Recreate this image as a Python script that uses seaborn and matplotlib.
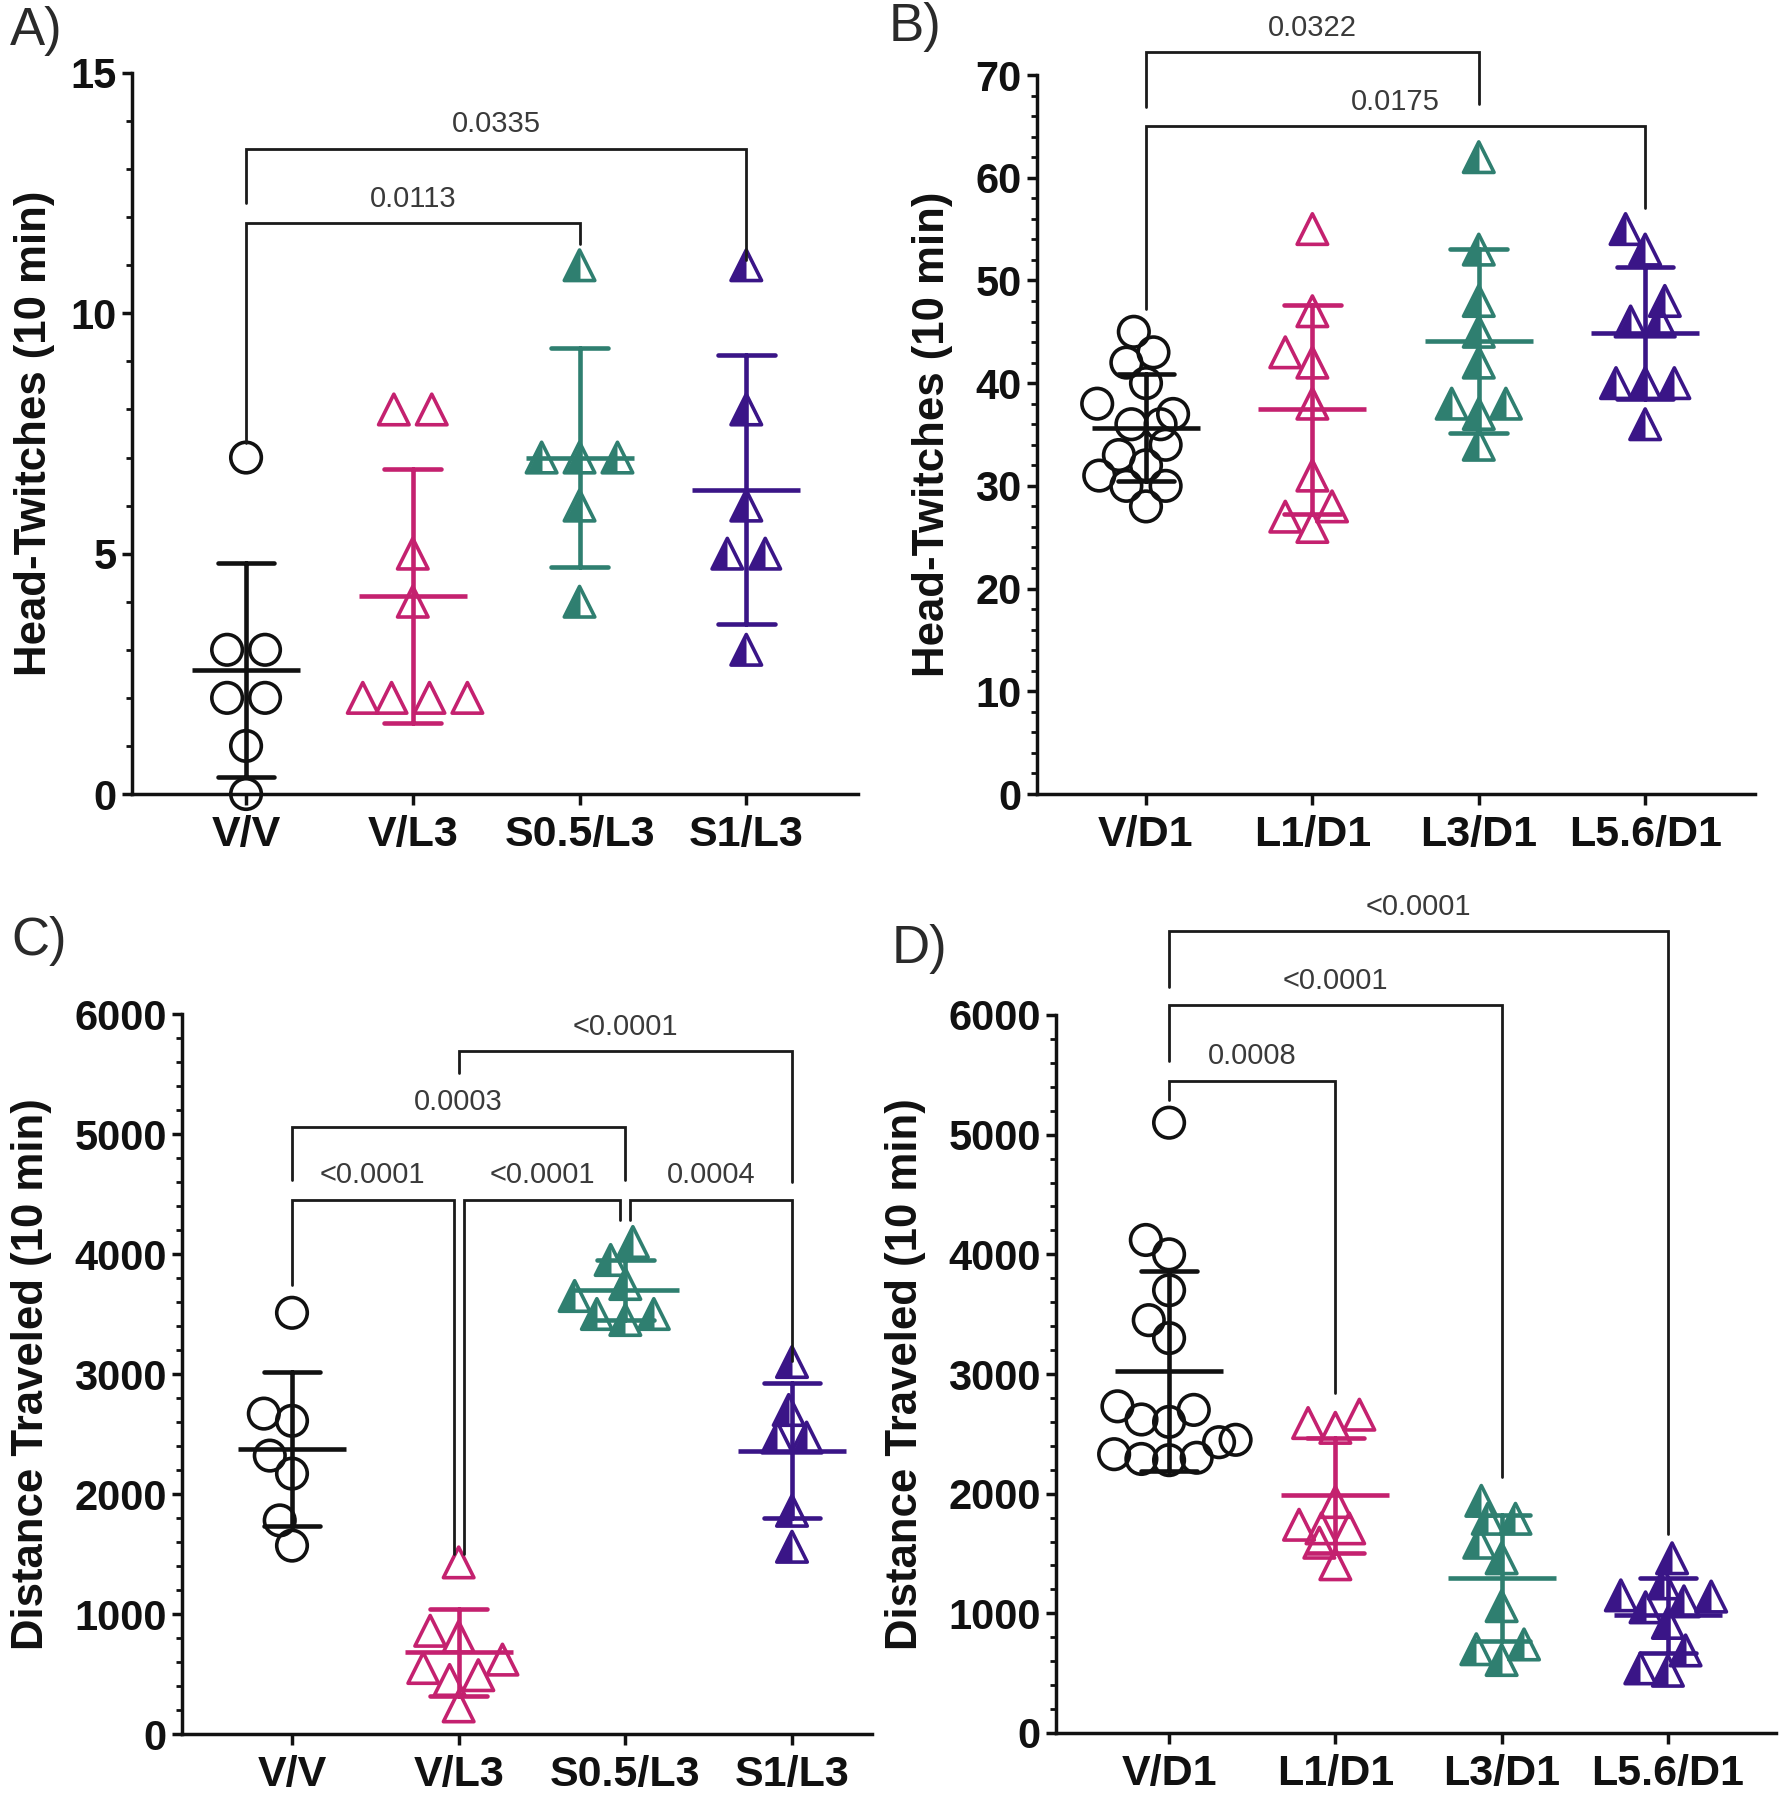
import numpy as np
import pandas as pd
import matplotlib
matplotlib.use("Agg")
import matplotlib.pyplot as plt
from matplotlib.path import Path
from matplotlib.ticker import MultipleLocator
import seaborn as sns

# values (one point per animal)
groups_ab = ["V/V", "V/L3", "S0.5/L3", "S1/L3"]
groups_bd = ["V/D1", "L1/D1", "L3/D1", "L5.6/D1"]

a_vv = [7, 3, 3, 2, 2, 1, 0]
a_vl3 = [8, 8, 5, 4, 2, 2, 2, 2]
a_s05 = [11, 7, 7, 7, 6, 4]
a_s1 = [11, 8, 6, 5, 5, 3]

b_vd1 = [45, 43, 42, 40, 38, 37, 36, 36, 34, 33, 32, 31, 30, 30, 28]
b_l1 = [55, 47, 43, 42, 38, 31, 28, 27, 26]
b_l3 = [62, 53, 48, 45, 42, 38, 38, 37, 34]
b_l56 = [55, 53, 48, 46, 46, 40, 40, 40, 36]

c_vv = [3510, 2670, 2610, 2320, 2170, 1780, 1570]
c_vl3 = [1430, 860, 810, 620, 550, 490, 450, 230]
c_s05 = [4100, 3950, 3750, 3650, 3500, 3500, 3450]
c_s1 = [3100, 2700, 2470, 2470, 1860, 1560]

d_vd1 = [5100, 4120, 4000, 3700, 3450, 3300, 2730, 2700, 2620, 2600,
         2450, 2430, 2330, 2300, 2290, 2280]
d_l1 = [2660, 2590, 2550, 1930, 1740, 1710, 1710, 1590, 1410]
d_l3 = [1940, 1790, 1790, 1590, 1460, 1060, 740, 700, 610]
d_l56 = [1460, 1250, 1150, 1140, 1100, 1050, 920, 690, 540, 520]

# significance brackets: x left, x right, bar y, left leg end, right leg end, p text
brackets_a = [(0, 3, 13.42, 12.3, 11.1, "0.0335"),
              (0, 2, 11.87, 7.3, 11.44, "0.0113")]
brackets_b = [(0, 2, 72.2, 66.9, 67.2, "0.0322"),
              (0, 3, 65.0, 47.2, 57.1, "0.0175")]
brackets_c = [(1, 3, 5690, 5510, 4600, "<0.0001"),
              (0, 2, 5060, 4620, 4620, "0.0003"),
              (0, 0.97, 4450, 3745, 1500, "<0.0001"),
              (1.03, 1.97, 4450, 1500, 4280, "<0.0001"),
              (2.03, 3, 4450, 4280, 3110, "0.0004")]
brackets_d = [(0, 3, 6700, 6230, 1660, "<0.0001"),
              (0, 2, 6080, 5615, 2140, "<0.0001"),
              (0, 1, 5450, 5290, 2840, "0.0008")]

BLACK = "#111111"
PINK = "#C4216F"
TEAL = "#2F7F70"
PURPLE = "#3A1587"
colors = [BLACK, PINK, TEAL, PURPLE]
markers = ["o", "^", "^", "^"]
half_fill = [False, False, True, True]
MS = 22          # marker size (pt)
LW = 3.3         # error bar width

sns.set_theme(style="ticks")
plt.rcParams["font.family"] = ["Liberation Sans", "DejaVu Sans"]
plt.rcParams["font.weight"] = "bold"
plt.rcParams["axes.linewidth"] = 2.5
plt.rcParams["axes.edgecolor"] = BLACK

W, H = 1792, 1800
fig = plt.figure(figsize=(W / 100, H / 100), dpi=100)


def px_axes(l, r, t, b):
    return fig.add_axes([l / W, 1 - b / H, (r - l) / W, (b - t) / H])


half_path = Path([(0, 1), (-1, -1), (0, -1), (0, 1)],
                 [Path.MOVETO, Path.LINETO, Path.LINETO, Path.CLOSEPOLY])

panels = [
    dict(ax=px_axes(132, 858, 73, 794), groups=groups_ab, vals=[a_vv, a_vl3, a_s05, a_s1],
         ylim=15, major=5, minor=1, xlim=(-0.684, 3.67), label="Head-Twitches (10 min)",
         labx=-0.106, brackets=brackets_a, spacing=26),
    dict(ax=px_axes(1037, 1755, 75, 794), groups=groups_bd, vals=[b_vd1, b_l1, b_l3, b_l56],
         ylim=70, major=10, minor=2, xlim=(-0.655, 3.66), label="Head-Twitches (10 min)",
         labx=-0.117, brackets=brackets_b, spacing=20),
    dict(ax=px_axes(182, 872, 1014, 1734), groups=groups_ab, vals=[c_vv, c_vl3, c_s05, c_s1],
         ylim=6000, major=1000, minor=200, xlim=(-0.66, 3.48), label="Distance Traveled (10 min)",
         labx=-0.188, brackets=brackets_c, spacing=20),
    dict(ax=px_axes(1056, 1776, 1015, 1733), groups=groups_bd, vals=[d_vd1, d_l1, d_l3, d_l56],
         ylim=6000, major=1000, minor=200, xlim=(-0.68, 3.65), label="Distance Traveled (10 min)",
         labx=-0.181, brackets=brackets_d, spacing=19),
]

swarms = []
for p in panels:
    ax = p["ax"]
    groups = p["groups"]
    df = pd.DataFrame({"group": np.repeat(groups, [len(v) for v in p["vals"]]),
                       "value": np.concatenate(p["vals"]).astype(float)})
    for i, g in enumerate(groups):
        n_before = len(ax.collections)
        sns.swarmplot(data=df[df["group"] == g], x="group", y="value", order=groups,
                      marker=markers[i], size=p["spacing"], color=colors[i],
                      ax=ax, zorder=2, clip_on=False, warn_thresh=1)
        # seaborn adds an empty scatter for every other level; keep the real one
        for coll in ax.collections[n_before:]:
            if len(coll.get_offsets()) > 0:
                swarms.append((ax, coll, i))
    sns.pointplot(data=df, x="group", y="value", hue="group", order=groups,
                  hue_order=groups, palette=dict(zip(groups, colors)),
                  errorbar="sd", capsize=0.34, marker="_", markersize=78,
                  markeredgewidth=LW, linestyle="none", linewidth=LW,
                  err_kws={"linewidth": LW}, legend=False, ax=ax)
    for ln in ax.lines:
        ln.set_zorder(3)
        ln.set_clip_on(False)

    ax.set_xlim(*p["xlim"])
    ax.set_ylim(0, p["ylim"])
    ax.yaxis.set_major_locator(MultipleLocator(p["major"]))
    ax.yaxis.set_minor_locator(MultipleLocator(p["minor"]))
    sns.despine(ax=ax)
    ax.tick_params(axis="y", which="major", length=7, width=2.5, labelsize=30, pad=4,
                   colors=BLACK)
    ax.tick_params(axis="y", which="minor", length=4, width=2, colors=BLACK)
    ax.tick_params(axis="x", length=8, width=2.5, labelsize=31, pad=7, colors=BLACK)
    ax.set_xlabel("")
    ax.set_ylabel(p["label"], fontsize=31.5, fontweight="bold", color=BLACK)
    ax.yaxis.set_label_coords(p["labx"], 0.5)

    for x0, x1, ybar, y0, y1, txt in p["brackets"]:
        ax.plot([x0, x0, x1, x1], [y0, ybar, ybar, y1], color="#1a1a1a", lw=2,
                clip_on=False, zorder=3, solid_joinstyle="miter")
        ax.annotate(txt, xy=((x0 + x1) / 2, ybar), xytext=(0, 12),
                    textcoords="offset points", ha="center", va="baseline",
                    fontsize=21, fontweight="normal", color="#3a3a3a",
                    annotation_clip=False)

# run the swarm layout once, then freeze it and restyle the points
fig.canvas.draw()
for ax, coll, i in swarms:
    if "draw" in coll.__dict__:
        del coll.draw
    off = np.asarray(coll.get_offsets()).copy()
    for yv in np.unique(off[:, 1]):
        idx = off[:, 1] == yv
        if idx.sum() > 1:
            off[idx, 0] -= off[idx, 0].mean() - i
    coll.set_offsets(off)
    coll.set_sizes(np.full(len(off), MS ** 2))
    coll.set_facecolor("none")
    coll.set_edgecolor(colors[i])
    coll.set_linewidth(2.6)
    coll.set_zorder(2.1)
    if half_fill[i]:
        ax.scatter(off[:, 0], off[:, 1], marker=half_path, s=MS ** 2,
                   color=colors[i], linewidths=0, zorder=2.0, clip_on=False)

for txt, x, y in [("A)", 10, 6), ("B)", 889, 2), ("C)", 11, 916), ("D)", 892, 924)]:
    fig.text(x / W, 1 - y / H, txt, fontsize=38, fontweight="normal",
             color="#2a2a2a", ha="left", va="top")

fig.savefig("out.png", dpi=100)
